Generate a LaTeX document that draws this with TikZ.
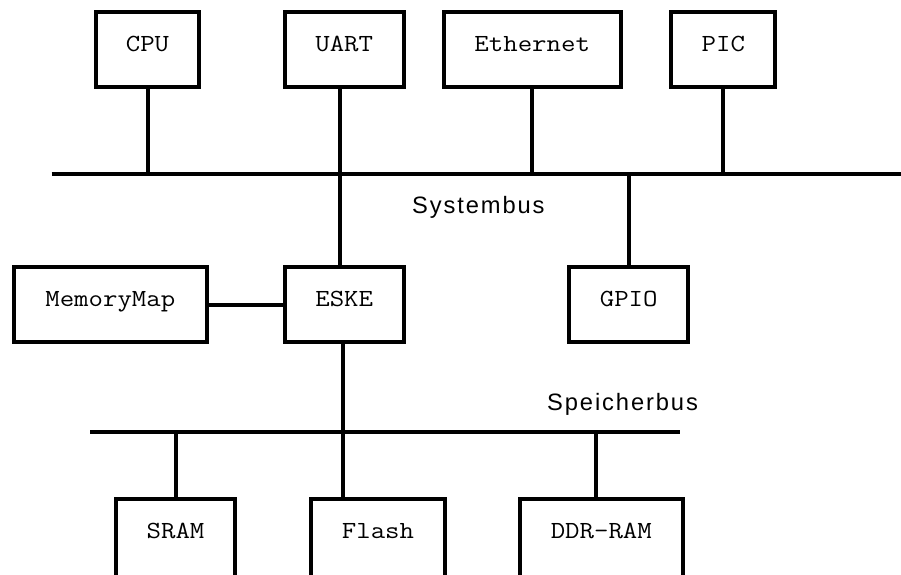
\documentclass[tikz,border=0pt]{standalone}
\usepackage{fontspec}
\newfontfamily\boxfont[FakeStretch=1.14]{Latin Modern Mono}
\newfontfamily\busfont[LetterSpace=8]{Liberation Sans}
\begin{document}
\begin{tikzpicture}[x=1pt,y=-1pt,
  unit/.style={draw=black, line width=4pt, rectangle, minimum height=75pt,
    inner sep=0pt, text height=14pt, text depth=11pt,
    font=\boxfont\fontsize{24.6}{26}\selectfont},
  lowunit/.style={unit, minimum height=85pt, text depth=20pt},
  wire/.style={line width=4pt},
  buslabel/.style={anchor=base west, inner sep=0pt,
    font=\busfont\fontsize{23.7}{26}\selectfont}]
\path[use as bounding box, clip] (0,0) rectangle (901,574);

% components on the system bus
\node[unit, minimum width=103pt] (cpu)  at (147.5,49.5) {CPU};
\node[unit, minimum width=119pt] (uart) at (344.2,49.5) {UART};
\node[unit, minimum width=177pt] (eth)  at (532.2,49.5) {Ethernet};
\node[unit, minimum width=104pt] (pic)  at (723.3,49.5) {PIC};
\node[unit, minimum width=119pt] (gpio) at (628.7,304.7) {GPIO};

% bridge and its memory map
\node[unit, minimum width=119pt]   (eske) at (344.2,304.5) {ESKE};
\node[unit, minimum width=193.3pt] (mmap) at (110.3,304.5) {MemoryMap};

% memories on the memory bus (running past the lower edge)
\node[lowunit, minimum width=118.4pt] (sram)  at (175.5,541.8) {SRAM};
\node[lowunit, minimum width=133.4pt] (flash) at (378,541.8) {Flash};
\node[lowunit, minimum width=163.3pt] (ddr)   at (601.3,541.8) {DDR-RAM};

% system bus
\coordinate (sbL) at (51.7,174.3);
\coordinate (sbR) at (901,174.3);
\draw[wire] (sbL) -- (sbR);
\node[buslabel] (sblabel) at (412,213) {Systembus};

\coordinate (uartTap) at (340.3,174.3);
\draw[wire] (cpu.south) -- (cpu.south |- sbL);
\draw[wire] (uartTap |- uart.south) -- (uartTap) -- (uartTap |- eske.north);
\draw[wire] (eth.south) -- (eth.south |- sbL);
\draw[wire] (pic.south) -- (pic.south |- sbL);
\draw[wire] (gpio.north) -- (gpio.north |- sbL);

% bridge to memory map
\draw[wire] (mmap.east) -- (eske.west);

% memory bus
\coordinate (mbL) at (90,432.3);
\coordinate (mbR) at (680,432.3);
\draw[wire] (mbL) -- (mbR);
\node[buslabel] (mblabel) at (547,410) {Speicherbus};

\coordinate (eskeTap) at (342.8,432.3);
\coordinate (ddrTap) at (595.7,432.3);
\draw[wire] (eskeTap |- eske.south) -- (eskeTap) -- (eskeTap |- flash.north);
\draw[wire] (sram.north) -- (sram.north |- mbL);
\draw[wire] (ddrTap |- ddr.north) -- (ddrTap);
\end{tikzpicture}
\end{document}
